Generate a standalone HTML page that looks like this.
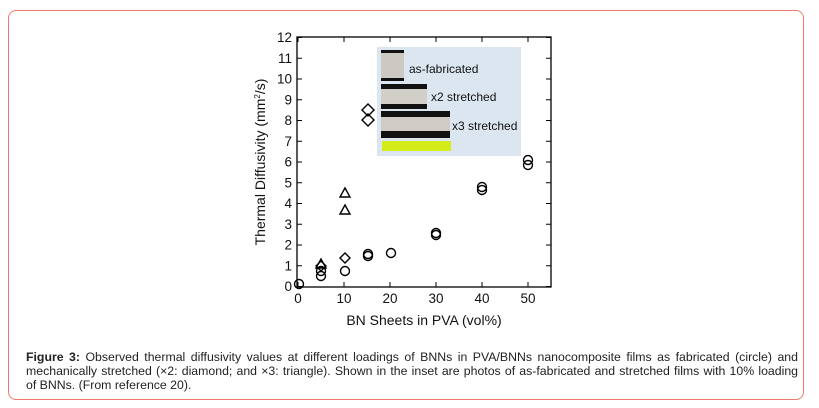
<!DOCTYPE html>
<html><head><meta charset="utf-8"><style>
body{margin:0;width:819px;height:408px;background:#fff;overflow:hidden;font-family:"Liberation Sans",Arial,sans-serif}
.frame{position:absolute;left:8px;top:10px;width:796px;height:390px;border:1px solid #f07a6e;border-radius:8px;box-sizing:border-box}
.cap{position:absolute;left:26px;top:350px;width:772px;font-size:12.3px;line-height:14px;color:#222;text-align:justify}
svg{position:absolute;left:0;top:0}
</style></head><body>
<div class="frame"></div>
<svg width="819" height="408" font-family="Liberation Sans,Arial,sans-serif">
<g stroke="#000" fill="none" stroke-width="1.3">
<rect x="297" y="37" width="254" height="250"/>
</g>
<g stroke="#000" stroke-width="1">
<line x1="298" y1="287" x2="298" y2="282"/><line x1="344" y1="287" x2="344" y2="282"/><line x1="390" y1="287" x2="390" y2="282"/><line x1="436" y1="287" x2="436" y2="282"/><line x1="482" y1="287" x2="482" y2="282"/><line x1="528" y1="287" x2="528" y2="282"/>
<line x1="298" y1="37" x2="298" y2="42"/><line x1="344" y1="37" x2="344" y2="42"/><line x1="390" y1="37" x2="390" y2="42"/><line x1="436" y1="37" x2="436" y2="42"/><line x1="482" y1="37" x2="482" y2="42"/><line x1="528" y1="37" x2="528" y2="42"/>
</g>
<g stroke="#000" stroke-width="1" id="yt"></g>
<g font-size="13.5" fill="#111" text-anchor="end" id="yl"></g>
<g font-size="13.5" fill="#111" text-anchor="middle">
<text x="298" y="303">0</text><text x="344" y="303">10</text><text x="390" y="303">20</text><text x="436" y="303">30</text><text x="482" y="303">40</text><text x="528" y="303">50</text>
<text x="424" y="325" font-size="14">BN Sheets in PVA (vol%)</text>
</g>
<text transform="translate(265,162) rotate(-90)" font-size="14" text-anchor="middle" fill="#111">Thermal Diffusivity (mm<tspan font-size="8" dy="-5">2</tspan><tspan dy="5">/s)</tspan></text>
<rect x="377" y="47" width="144" height="109" fill="#dce6f1"/>
<rect x="381" y="50" width="23" height="31" fill="#ccc8c2"/><rect x="381" y="50" width="23" height="3" fill="#111"/><rect x="381" y="78" width="23" height="3" fill="#111"/>
<rect x="381" y="84" width="46" height="25" fill="#d2cec8"/><rect x="381" y="84" width="46" height="5" fill="#111"/><rect x="381" y="104" width="46" height="5" fill="#111"/>
<rect x="381" y="111" width="69" height="27" fill="#cfcbc5"/><rect x="381" y="111" width="69" height="6" fill="#111"/><rect x="381" y="131" width="69" height="7" fill="#111"/>
<rect x="382" y="141" width="69" height="10" fill="#d4ec1a"/>
<g font-size="12" fill="#111"><text x="409" y="73">as-fabricated</text><text x="431" y="101">x2 stretched</text><text x="452" y="130">x3 stretched</text></g>
<g stroke="#000" stroke-width="1.4" fill="none">
<circle cx="299" cy="284" r="4.5"/><circle cx="321" cy="276" r="4.5"/><circle cx="321" cy="271" r="4.5"/><circle cx="345" cy="271" r="4.5"/>
<circle cx="368" cy="256" r="4.5"/><circle cx="368" cy="254" r="4.5"/><circle cx="391" cy="253" r="4.5"/>
<circle cx="436" cy="235" r="4.5"/><circle cx="436" cy="233" r="4.5"/><circle cx="482" cy="190" r="4.5"/><circle cx="482" cy="187" r="4.5"/>
<circle cx="528" cy="165" r="4.5"/><circle cx="528" cy="160" r="4.5"/>
<path d="M321 261l5 5-5 5-5-5z"/><path d="M345 253l5 5-5 5-5-5z"/><path d="M368 104l6 6-6 6-6-6z"/><path d="M368 114l6 6-6 6-6-6z"/>
<path d="M321 259l5 9h-10z"/><path d="M345 188l5 9h-10z"/><path d="M345 205l5 9h-10z"/>
</g>
</svg>
<script>
var t=document.getElementById('yt'),l=document.getElementById('yl');
for(var i=0;i<=12;i++){var y=286.5-i*20.75;
t.innerHTML+='<line x1="297" y1="'+y+'" x2="302" y2="'+y+'"/><line x1="551" y1="'+y+'" x2="546" y2="'+y+'"/>';
l.innerHTML+='<text x="292" y="'+(y+4.5)+'">'+i+'</text>';}
</script>
<div class="cap"><b>Figure 3:</b> Observed thermal diffusivity values at different loadings of BNNs in PVA/BNNs nanocomposite films as fabricated (circle) and mechanically stretched (×2: diamond; and ×3: triangle). Shown in the inset are photos of as-fabricated and stretched films with 10% loading of&nbsp;BNNs. (From reference 20).</div>
</body></html>
